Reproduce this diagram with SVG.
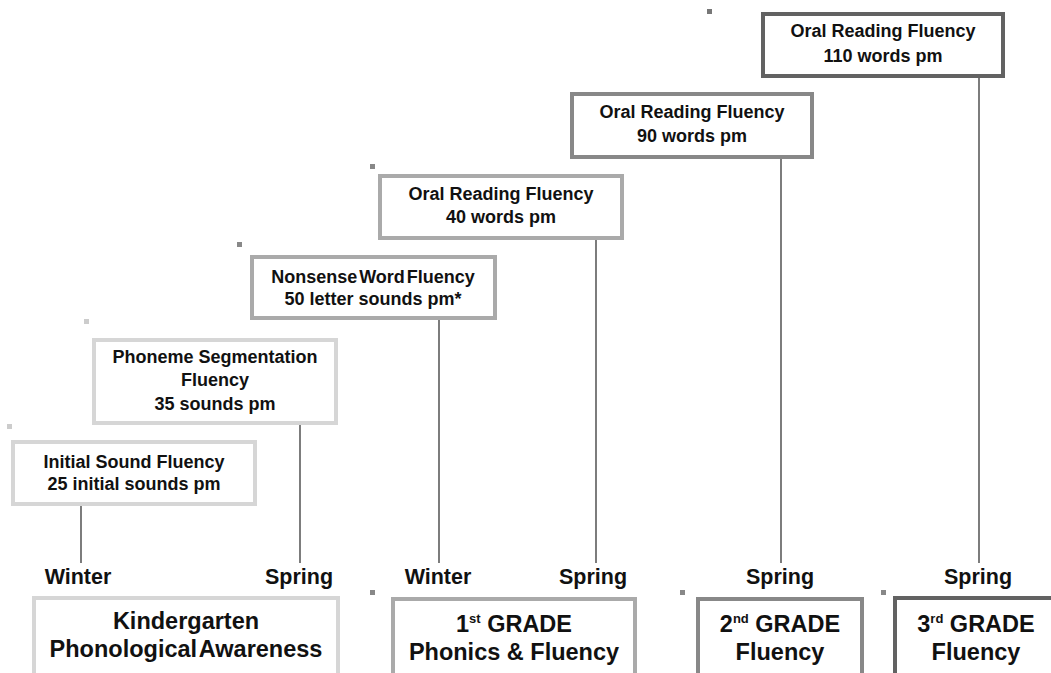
<svg xmlns="http://www.w3.org/2000/svg" width="1051" height="673" viewBox="0 0 1051 673">
<style>
.t{font-family:"Liberation Sans",Arial,sans-serif;font-weight:bold;fill:#111;text-anchor:middle}
.bx{font-size:18px}
.lb{font-size:21.5px}
.gr{font-size:23.5px}
.box{fill:#fff;stroke-width:4}
.c1{stroke:#d6d6d6}
.c2{stroke:#aaaaaa}
.c3{stroke:#888888}
.c4{stroke:#626262}
.sq{stroke:none}
.ln{stroke:#111;stroke-width:1.1;fill:none}
</style>
<rect width="1051" height="673" fill="#fff"/>
<g id="connectors">
<line class="ln" x1="81" y1="506" x2="81" y2="563"/>
<line class="ln" x1="300" y1="425" x2="300" y2="563"/>
<line class="ln" x1="439" y1="320" x2="439" y2="563"/>
<line class="ln" x1="596" y1="240" x2="596" y2="563"/>
<line class="ln" x1="781" y1="159" x2="781" y2="563"/>
<line class="ln" x1="979" y1="78" x2="979" y2="563"/>
</g>
<g id="markers">
<rect class="sq" x="7" y="424" width="5" height="5" fill="#cccccc"/>
<rect class="sq" x="84" y="319" width="5" height="5" fill="#cccccc"/>
<rect class="sq" x="237" y="242" width="5" height="5" fill="#888"/>
<rect class="sq" x="370" y="164" width="5" height="5" fill="#888"/>
<rect class="sq" x="707" y="9" width="5" height="5" fill="#777"/>
<rect class="sq" x="370" y="590" width="5" height="5" fill="#888"/>
<rect class="sq" x="680" y="590" width="5" height="5" fill="#888"/>
<rect class="sq" x="881" y="590" width="5" height="5" fill="#888"/>
</g>
<g id="isf">
<rect class="box c1" x="13" y="442" width="242" height="62"/>
<text class="t bx" x="134" y="468">Initial Sound Fluency</text>
<text class="t bx" x="134" y="490">25 initial sounds pm</text>
</g>
<g id="psf">
<rect class="box c1" x="94" y="340" width="242" height="83"/>
<text class="t bx" x="215" y="363">Phoneme Segmentation</text>
<text class="t bx" x="215" y="386">Fluency</text>
<text class="t bx" x="215" y="410">35 sounds pm</text>
</g>
<g id="nwf">
<rect class="box c2" x="252" y="257" width="243" height="61"/>
<text class="t bx" x="373" y="283" word-spacing="-3">Nonsense Word Fluency</text>
<text class="t bx" x="373" y="305">50 letter sounds pm*</text>
</g>
<g id="orf40">
<rect class="box c2" x="380" y="176" width="242" height="62"/>
<text class="t bx" x="501" y="200">Oral Reading Fluency</text>
<text class="t bx" x="501" y="223">40 words pm</text>
</g>
<g id="orf90">
<rect class="box c3" x="572" y="94" width="240" height="63"/>
<text class="t bx" x="692" y="118">Oral Reading Fluency</text>
<text class="t bx" x="692" y="142">90 words pm</text>
</g>
<g id="orf110">
<rect class="box c4" x="763" y="14" width="240" height="62"/>
<text class="t bx" x="883" y="37">Oral Reading Fluency</text>
<text class="t bx" x="883" y="62">110 words pm</text>
</g>
<g id="season-labels">
<text class="t lb" x="78" y="584">Winter</text>
<text class="t lb" x="299" y="584">Spring</text>
<text class="t lb" x="438" y="584">Winter</text>
<text class="t lb" x="593" y="584">Spring</text>
<text class="t lb" x="780" y="584">Spring</text>
<text class="t lb" x="978" y="584">Spring</text>
</g>
<g id="kindergarten">
<rect class="box c1" x="34" y="598" width="304" height="100"/>
<text class="t gr" x="186" y="629">Kindergarten</text>
<text class="t gr" x="186" y="657" word-spacing="-4">Phonological Awareness</text>
</g>
<g id="grade1">
<rect class="box c2" x="393" y="599" width="242" height="100"/>
<text class="t gr" x="514" y="632">1<tspan font-size="13" dy="-9">st</tspan><tspan dy="9"> GRADE</tspan></text>
<text class="t gr" x="514" y="660">Phonics &amp; Fluency</text>
</g>
<g id="grade2">
<rect class="box c3" x="698" y="599" width="164" height="100"/>
<text class="t gr" x="780" y="632">2<tspan font-size="13" dy="-9">nd</tspan><tspan dy="9"> GRADE</tspan></text>
<text class="t gr" x="780" y="660">Fluency</text>
</g>
<g id="grade3">
<rect class="box c4" x="895" y="598" width="200" height="100"/>
<text class="t gr" x="976" y="632">3<tspan font-size="13" dy="-9">rd</tspan><tspan dy="9"> GRADE</tspan></text>
<text class="t gr" x="976" y="660">Fluency</text>
</g>
</svg>
